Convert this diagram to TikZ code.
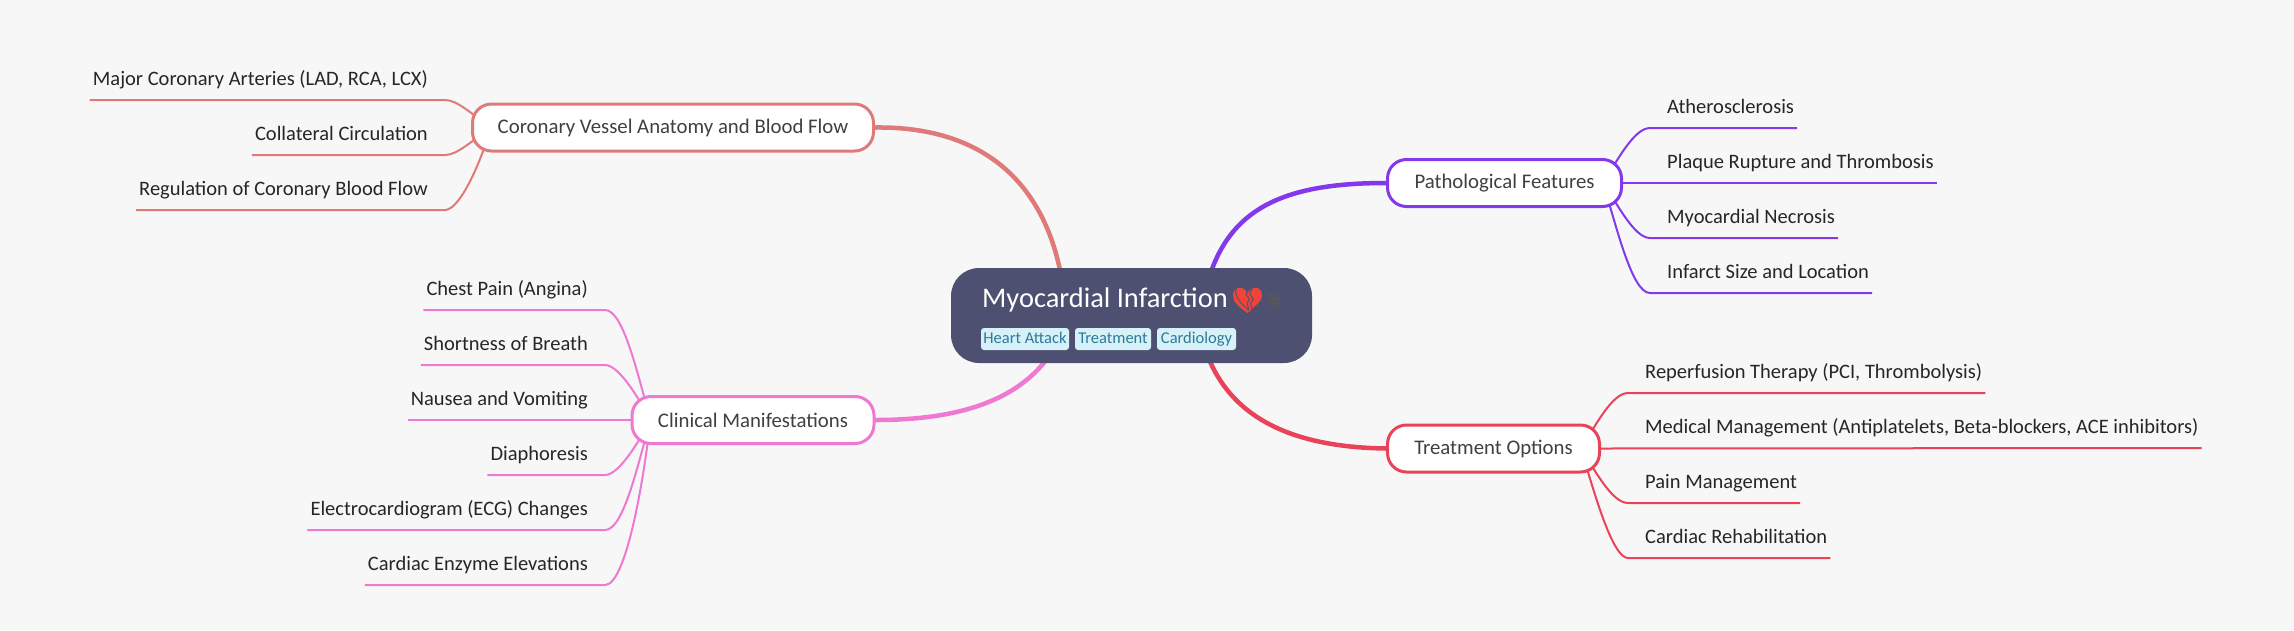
\documentclass[tikz,border=0pt]{standalone}
\usepackage{fontspec}
\setmainfont{Carlito}
\newfontfamily\emojifont{Noto Emoji}
\usepackage{tikz}
\usetikzlibrary{calc}
\definecolor{pagecol}{HTML}{F7F7F7}
\definecolor{rootcol}{HTML}{4D5070}
\definecolor{tagcol}{HTML}{D6F1F8}
\definecolor{tagtext}{HTML}{2F7A98}
\definecolor{coronarycol}{HTML}{E07A7A}
\definecolor{clinicalcol}{HTML}{EE78D2}
\definecolor{pathocol}{HTML}{8338EC}
\definecolor{treatcol}{HTML}{E9435A}
\definecolor{heartcol}{HTML}{F0443A}
\pgfdeclarelayer{edgelayer}
\pgfsetlayers{edgelayer,main}
\tikzset{
  rootbox/.style={fill=rootcol,rounded corners=28,minimum width=361,minimum height=95,inner sep=0},
  branch/.style={draw,fill=white,line width=3,rounded corners=19,minimum height=47,inner sep=0,text=black!75,font=\fontsize{20.8}{25}\selectfont},
  leaf/.style={inner xsep=3,inner ysep=9,text height=15,text depth=5,text=black!85,font=\fontsize{20.5}{25}\selectfont},
  tag/.style={fill=tagcol,text=tagtext,rounded corners=3,inner xsep=1,inner ysep=0,minimum height=22,text height=12,text depth=3,font=\fontsize{16.5}{20}\selectfont},
  trunk/.style={line width=4.5,line cap=round},
  twig/.style={line width=2}
}
\begin{document}
\begin{tikzpicture}[x=1pt,y=-1pt]
\useasboundingbox (0,0) rectangle (2294,630);
\node[rootbox] (root) at (1131.5,315.5) {};
\node[anchor=base west,inner sep=0,text=white,font=\fontsize{28.4}{34}\selectfont] (title) at (982,307) {Myocardial Infarction};
\fill[heartcol] (1247.5,293) .. controls (1243,285) and (1233,286) .. (1233,296) .. controls (1233,303) and (1241,308) .. (1247.5,313) .. controls (1254,308) and (1262,303) .. (1262,296) .. controls (1262,286) and (1252,285) .. (1247.5,293) -- cycle;
\node[anchor=base west,inner sep=0,text=rootcol,font=\emojifont\fontsize{27}{34}\selectfont] (heart) at (1233,307) {^^^^^^01f494};
\node[anchor=base west,inner sep=0,text=black!65,font=\emojifont\fontsize{17}{34}\selectfont] (staff) at (1263,307) {^^^^2695};
\node[tag,minimum width=88] (tagheart) at (1025,339) {Heart Attack};
\node[tag,minimum width=76] (tagtreat) at (1113,339) {Treatment};
\node[tag,minimum width=79] (tagcardio) at (1196.5,339) {Cardiology};

\node[branch,draw=coronarycol,minimum width=401] (coronary) at (673,127.5) {Coronary Vessel Anatomy and Blood Flow};
\node[branch,draw=clinicalcol,minimum width=242] (clinical) at (753,420) {Clinical Manifestations};
\node[branch,draw=pathocol,minimum width=234] (patho) at (1504.5,183) {Pathological Features};
\node[branch,draw=treatcol,minimum width=212] (treat) at (1493.5,448.5) {Treatment Options};

\node[leaf,anchor=south east] (major) at (431,100) {Major Coronary Arteries (LAD, RCA, LCX)};
\node[leaf,anchor=south east] (collateral) at (431,155) {Collateral Circulation};
\node[leaf,anchor=south east] (regulation) at (431,210) {Regulation of Coronary Blood Flow};

\node[leaf,anchor=south east] (chest) at (591,310) {Chest Pain (Angina)};
\node[leaf,anchor=south east] (breath) at (591,365) {Shortness of Breath};
\node[leaf,anchor=south east] (nausea) at (591,420) {Nausea and Vomiting};
\node[leaf,anchor=south east] (diaphoresis) at (591,475) {Diaphoresis};
\node[leaf,anchor=south east] (ecg) at (591,530) {Electrocardiogram (ECG) Changes};
\node[leaf,anchor=south east] (enzyme) at (591,585) {Cardiac Enzyme Elevations};

\node[leaf,anchor=south west] (athero) at (1664,128) {Atherosclerosis};
\node[leaf,anchor=south west] (plaque) at (1664,183) {Plaque Rupture and Thrombosis};
\node[leaf,anchor=south west] (necrosis) at (1664,238) {Myocardial Necrosis};
\node[leaf,anchor=south west] (infarct) at (1664,293) {Infarct Size and Location};

\node[leaf,anchor=south west] (reperfusion) at (1642,393) {Reperfusion Therapy (PCI, Thrombolysis)};
\node[leaf,anchor=south west] (medical) at (1642,448) {Medical Management (Antiplatelets, Beta-blockers, ACE inhibitors)};
\node[leaf,anchor=south west] (pain) at (1642,503) {Pain Management};
\node[leaf,anchor=south west] (rehab) at (1642,558) {Cardiac Rehabilitation};

\begin{pgfonlayer}{edgelayer}
\fill[pagecol] (0,0) rectangle (2294,630);
% trunks
\draw[trunk,coronarycol] (coronary.east) .. controls (990,126) and (1050,190) .. ($(root)+(-68,-25)$);
\draw[trunk,clinicalcol] (clinical.east) .. controls (960,420) and (1028,400) .. ($(root)+(-73,25)$);
\draw[trunk,pathocol] (patho.west) .. controls (1280,183) and (1225,210) .. ($(root)+(74,-25)$);
\draw[trunk,treatcol] (treat.west) .. controls (1280,447) and (1222,410) .. ($(root)+(71,25)$);
% twigs
\draw[twig,coronarycol] (major.south west) -- ([xshift=14]major.south east) .. controls +(12,0) and +(-20,-14) .. ([xshift=20]coronary.west);
\draw[twig,coronarycol] (collateral.south west) -- ([xshift=14]collateral.south east) .. controls +(12,0) and +(-20,14) .. ([xshift=20]coronary.west);
\draw[twig,coronarycol] (regulation.south west) -- ([xshift=14]regulation.south east) .. controls +(14,0) and +(-12,40) .. ([xshift=20]coronary.west);

\draw[twig,clinicalcol] (chest.south west) -- ([xshift=14]chest.south east) .. controls +(18,0) and +(-14,-50) .. ([xshift=20]clinical.west);
\draw[twig,clinicalcol] (breath.south west) -- ([xshift=14]breath.south east) .. controls +(14,0) and +(-12,-22) .. ([xshift=20]clinical.west);
\draw[twig,clinicalcol] (nausea.south west) -- (clinical.west);
\draw[twig,clinicalcol] (diaphoresis.south west) -- ([xshift=14]diaphoresis.south east) .. controls +(14,0) and +(-12,22) .. ([xshift=20]clinical.west);
\draw[twig,clinicalcol] (ecg.south west) -- ([xshift=14]ecg.south east) .. controls +(18,0) and +(-14,50) .. ([xshift=20]clinical.west);
\draw[twig,clinicalcol] (enzyme.south west) -- ([xshift=14]enzyme.south east) .. controls +(20,0) and +(-8,70) .. ([xshift=20]clinical.west);

\draw[twig,pathocol] (athero.south east) -- ([xshift=-14]athero.south west) .. controls +(-16,0) and +(14,-22) .. ([xshift=-20]patho.east);
\draw[twig,pathocol] (plaque.south east) -- (patho.east);
\draw[twig,pathocol] (necrosis.south east) -- ([xshift=-14]necrosis.south west) .. controls +(-16,0) and +(14,20) .. ([xshift=-20]patho.east);
\draw[twig,pathocol] (infarct.south east) -- ([xshift=-14]infarct.south west) .. controls +(-18,0) and +(14,45) .. ([xshift=-20]patho.east);

\draw[twig,treatcol] (reperfusion.south east) -- ([xshift=-14]reperfusion.south west) .. controls +(-16,0) and +(14,-22) .. ([xshift=-20]treat.east);
\draw[twig,treatcol] (medical.south east) -- (treat.east);
\draw[twig,treatcol] (pain.south east) -- ([xshift=-14]pain.south west) .. controls +(-16,0) and +(14,22) .. ([xshift=-20]treat.east);
\draw[twig,treatcol] (rehab.south east) -- ([xshift=-14]rehab.south west) .. controls +(-16,0) and +(12,40) .. ([xshift=-20]treat.east);
\end{pgfonlayer}
\end{tikzpicture}
\end{document}
